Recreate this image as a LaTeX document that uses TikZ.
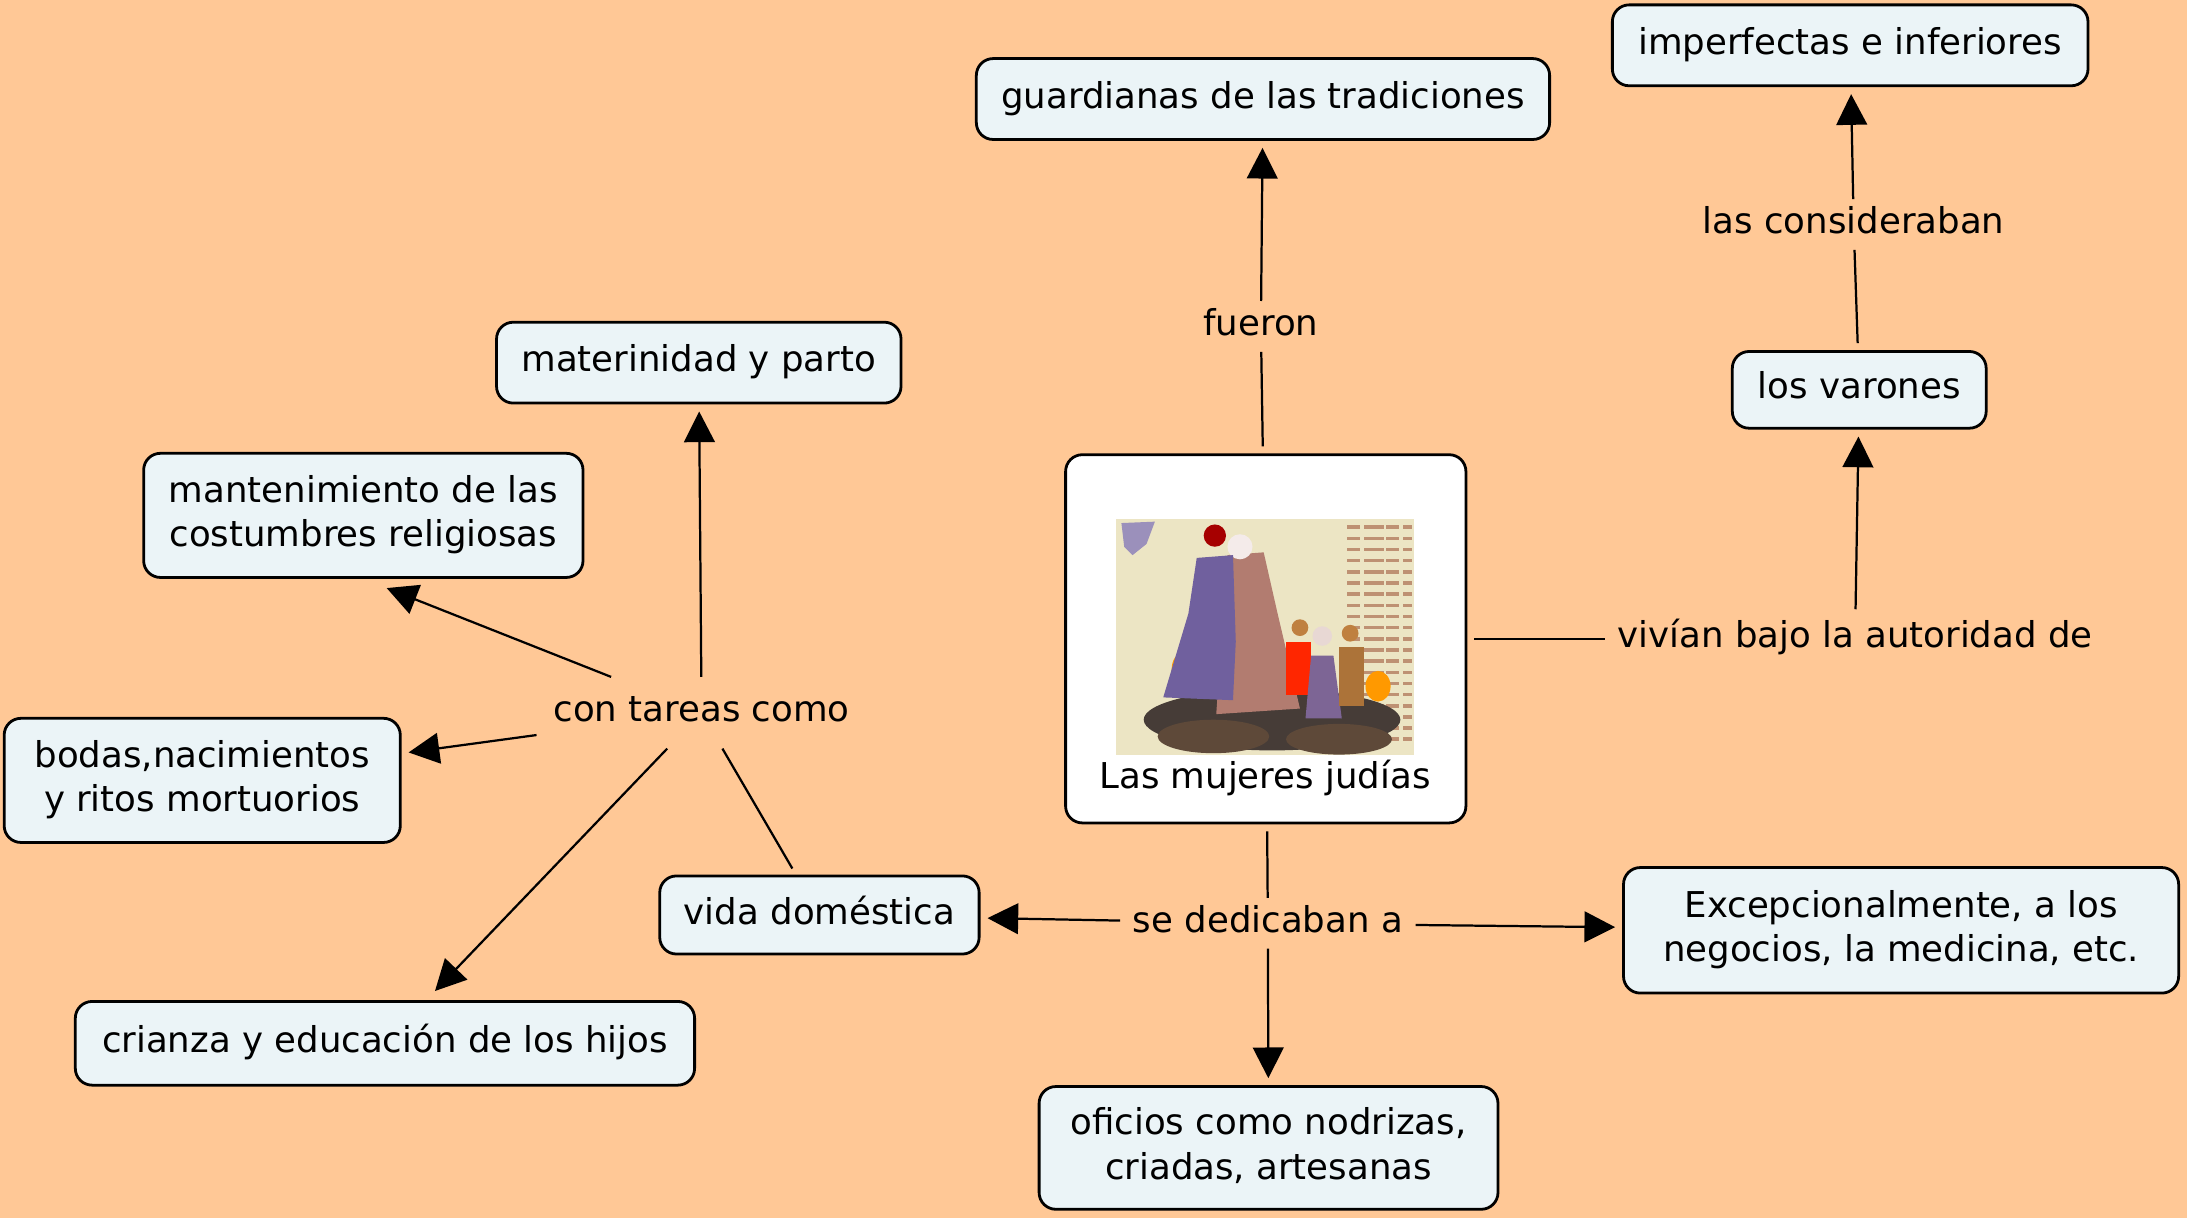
\documentclass[tikz,border=0pt]{standalone}
\usepackage{fontspec}
\setmainfont{DejaVu Sans}
\usetikzlibrary{arrows.meta}
\definecolor{peach}{RGB}{255,200,150}
\definecolor{conceptfill}{RGB}{235,244,247}
\definecolor{cream}{RGB}{236,229,196}
\definecolor{ground}{RGB}{70,60,55}
\definecolor{robeblue}{RGB}{112,96,158}
\definecolor{robepink}{RGB}{178,124,112}
\definecolor{inkbrown}{RGB}{190,145,115}
\tikzset{
  concept/.style={draw, line width=2pt, rounded corners=12pt, fill=conceptfill, align=center,
    inner xsep=8pt, inner ysep=0pt, text height=19pt, text depth=6pt, minimum height=58pt},
  concepttwo/.style={concept, text height=51pt, minimum height=89pt},
  linkword/.style={inner xsep=9pt, inner ysep=5.5pt, text height=19pt, text depth=6pt},
  link/.style={line width=1.6pt},
  tolink/.style={link, -{Triangle[length=22pt,width=22pt]}, shorten >=5pt},
  fromlink/.style={link, shorten <=5pt}
}
\begin{document}
\begin{tikzpicture}[x=1pt, y=-1pt, font=\fontsize{25.5}{32}\selectfont]
      \fill[peach] (0,0) rectangle (1568,873);
      \useasboundingbox (0,0) rectangle (1568,873);
      \node[concept, minimum width=411pt] (guardianas) at (905.5,71) {guardianas de las tradiciones};
      \node[concept, minimum width=341pt] (imperfectas) at (1326.5,32.5) {imperfectas e inferiores};
      \node[concept, minimum width=290pt] (maternidad) at (501,260) {materinidad y parto};
      \node[concepttwo, minimum width=315pt] (costumbres) at (260.5,369.5) {mantenimiento de las\\costumbres religiosas};
      \node[concepttwo, minimum width=284pt] (bodas) at (145,559.5) {bodas,nacimientos\\y ritos mortuorios};
      \node[concept, minimum width=229pt, minimum height=56pt] (domestica) at (587.5,656) {vida doméstica};
      \node[concept, minimum width=444pt, minimum height=60pt] (crianza) at (276,748) {crianza y educación de los hijos};
      \node[concept, minimum width=182pt, minimum height=55pt] (varones) at (1333,279.5) {los varones};
      \node[concepttwo, minimum width=398pt, minimum height=90pt] (negocios) at (1363,667) {Excepcionalmente, a los\\negocios, la medicina, etc.};
      \node[concepttwo, minimum width=329pt, minimum height=88pt] (oficios) at (909.5,823) {oficios como nodrizas,\\criadas, artesanas};
      \node[concept, fill=white, minimum width=287pt, minimum height=264pt] (mujeres) at (907.5,458) {};
      % picture inside the main concept
      \fill[cream] (800,372) rectangle (1014,541);
      \foreach \y in {378,386,...,536}
        \draw[inkbrown, line width=2.5pt, dash pattern=on 9pt off 3pt on 14pt off 2pt] (966,\y) -- (1012,\y);
      \fill[robeblue!70!white] (804,375) -- (828,374) -- (822,390) -- (812,398) -- (806,392) -- cycle;
      \fill[ground] (912,516) ellipse [x radius=92pt, y radius=22pt];
      \fill[ground!80!brown] (870,528) ellipse [x radius=40pt, y radius=12pt];
      \fill[ground!80!brown] (960,530) ellipse [x radius=38pt, y radius=11pt];
      \fill[orange!80!yellow] (848,480) ellipse [x radius=8pt, y radius=12pt];
      \fill[orange!80!yellow] (988,492) ellipse [x radius=9pt, y radius=11pt];
      \fill[robepink] (880,398) -- (906,396) -- (916,440) -- (932,508) -- (872,512) -- cycle;
      \fill[white!85!robepink] (889,392) circle [radius=9pt];
      \fill[robeblue] (858,400) -- (884,398) -- (886,460) -- (884,502) -- (834,500) -- (852,440) -- cycle;
      \fill[red!65!black] (871,384) circle [radius=8pt];
      \fill[red!70!orange] (922,460) rectangle (940,498);
      \fill[brown] (932,450) circle [radius=6pt];
      \fill[robeblue!80!robepink] (940,470) -- (956,470) -- (962,515) -- (936,515) -- cycle;
      \fill[white!70!robepink] (948,456) circle [radius=7pt];
      \fill[brown!90!black] (960,464) rectangle (978,506);
      \fill[brown] (968,454) circle [radius=6pt];
      \node (titulo) at (907,558) {Las mujeres judías};
      % linking words
      \node[linkword] (fueron) at (904,234) {fueron};
      \node[linkword] (consideraban) at (1329,161) {las consideraban};
      \node[linkword, inner ysep=8.5pt] (autoridad) at (1330,458) {vivían bajo la autoridad de};
      \node[linkword, inner xsep=12pt, inner ysep=13pt] (tareas) at (503,511) {con tareas como};
      \node[linkword] (dedicaban) at (909,662) {se dedicaban a};
      \draw[fromlink] (mujeres) -- (fueron);
      \draw[tolink] (fueron) -- (guardianas);
      \draw[fromlink] (varones) -- (consideraban);
      \draw[tolink] (consideraban) -- (imperfectas);
      \draw[fromlink] (mujeres) -- (autoridad);
      \draw[tolink] (autoridad) -- (varones);
      \draw[fromlink] (mujeres) -- (dedicaban);
      \draw[tolink] (dedicaban) -- (domestica);
      \draw[tolink] (dedicaban) -- (negocios);
      \draw[tolink] (dedicaban) -- (oficios);
      \draw[fromlink] (domestica) -- (tareas);
      \draw[tolink] (tareas) -- (maternidad);
      \draw[tolink, shorten >=18pt] (tareas) -- (costumbres.south);
      \draw[tolink] (tareas) -- (bodas);
      \draw[tolink, shorten >=9pt] (tareas) -- (crianza);
\end{tikzpicture}
\end{document}
